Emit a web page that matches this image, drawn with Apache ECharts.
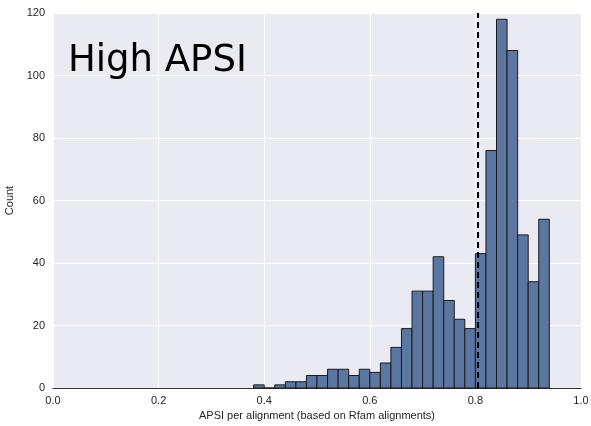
<!DOCTYPE html>
<html><head><meta charset="utf-8">
<script src="https://cdn.jsdelivr.net/npm/echarts@6/dist/echarts.min.js"></script>
<style>html,body{margin:0;padding:0;background:#fff}#c{width:591px;height:426px}</style>
</head><body><div id="c"></div>
<script>
var binStarts = [0.38,0.40,0.42,0.44,0.46,0.48,0.50,0.52,0.54,0.56,0.58,0.60,0.62,0.64,0.66,0.68,0.70,0.72,0.74,0.76,0.78,0.80,0.82,0.84,0.86,0.88,0.90,0.92];
var binWidth = 0.02;
var counts = [1,0,1,2,2,4,4,6,6,4,6,5,8,13,19,31,31,42,28,22,19,43,76,118,108,49,34,54];
var xTicks = ['0.0','0.2','0.4','0.6','0.8','1.0'];
var threshold = 0.805;
var titleText = 'High APSI';

var data = binStarts.map(function(s,i){return [s, s+binWidth, counts[i]];});
var chart = echarts.init(document.getElementById('c'));
chart.setOption({
  animation:false,
  backgroundColor:'#fff',
  grid:{left:53,right:10,top:13,bottom:38,containLabel:false,outerBoundsMode:'none',show:true,backgroundColor:'#EAEAF2',borderWidth:0},
  xAxis:{type:'value',min:0,max:1,interval:0.2,
    name:'APSI per alignment (based on Rfam alignments)',nameLocation:'middle',nameGap:21,
    nameTextStyle:{fontFamily:'Liberation Sans',fontSize:11,color:'#262626'},
    axisLine:{show:true,onZero:false,lineStyle:{color:'#333',width:1}},axisTick:{show:false},
    axisLabel:{fontFamily:'Liberation Sans',fontSize:11,color:'#262626',margin:7,
      formatter:function(v){return xTicks[Math.round(v/0.2)];}},
    splitLine:{show:true,lineStyle:{color:'#fff',width:1}}},
  yAxis:{type:'value',min:0,max:120,interval:20,
    name:'Count',nameLocation:'middle',nameGap:33,
    nameTextStyle:{fontFamily:'Liberation Sans',fontSize:11,color:'#262626'},
    axisLine:{show:false},axisTick:{show:false},
    axisLabel:{fontFamily:'Liberation Sans',fontSize:11,color:'#262626',margin:8},
    splitLine:{show:true,lineStyle:{color:'#fff',width:1}}},
  graphic:[{type:'text',left:68,top:43,z:100,style:{text:titleText,fontFamily:'DejaVu Sans',fontSize:37,fill:'#000'}}],
  series:[{
    type:'custom',
    data:data,
    encode:{x:[0,1],y:2},
    renderItem:function(params,api){
      var p0=api.coord([api.value(0),api.value(2)]);
      var p1=api.coord([api.value(1),0]);
      return {type:'rect',shape:{x:p0[0],y:p0[1],width:p1[0]-p0[0],height:p1[1]-p0[1]},
        style:{fill:'#5B76A0',stroke:'#1a1a1a',lineWidth:1}};
    },
    z:2
  },{
    type:'line',
    data:[[threshold,0],[threshold,120]],
    symbol:'none',silent:true,
    lineStyle:{color:'#000',type:[6,4],width:2},
    z:3
  }]
});
</script></body></html>
